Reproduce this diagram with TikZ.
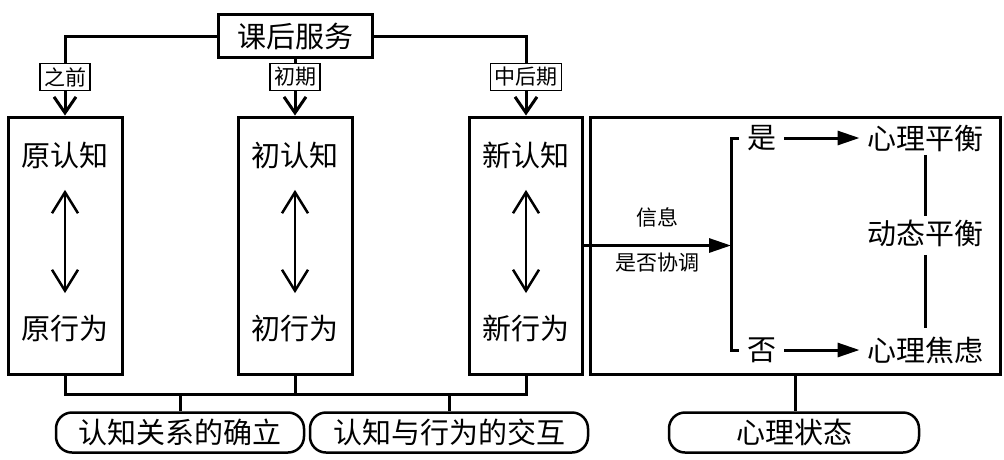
\documentclass[tikz,border=0pt]{standalone}
\usepackage{fontspec}
\setmainfont{Noto Sans CJK SC}
\usetikzlibrary{arrows.meta,positioning}

\begin{document}
\begin{tikzpicture}[x=1pt,y=-1pt,line width=3pt,
    big/.style={inner sep=2pt,font=\fontsize{29}{29}\selectfont},
    small/.style={inner sep=2pt,font=\fontsize{21}{21}\selectfont},
    colbox/.style={draw,minimum width=114pt,minimum height=257pt},
    tagbox/.style={small,draw,line width=1.5pt,fill=white,inner sep=4pt},
    pill/.style={big,draw,line width=2.5pt,rounded corners=16pt,minimum height=40pt},
    vee/.style={-{Straight Barb[length=16pt,width=22pt]}},
    dbl/.style={{Straight Barb[length=21pt,width=26pt]}-{Straight Barb[length=21pt,width=26pt]},
      line width=2.5pt,shorten <=18pt,shorten >=18pt},
    tri/.style={-{Triangle[length=22pt,width=14pt]}}]
  \useasboundingbox (0,0) rectangle (1004,459);

  % top box
  \node[big,draw,minimum width=154pt,minimum height=43pt] (serve) at (295,36) {课后服务};

  % three stages
  \node[colbox] (c1) at (65,245.5) {};
  \node[colbox] (c2) at (295,245.5) {};
  \node[colbox,minimum width=113pt] (c3) at (526,245.5) {};
  \node[big] (c1top) at (65,155) {原认知};
  \node[big] (c1bot) at (65,328) {原行为};
  \node[big] (c2top) at (295,155) {初认知};
  \node[big] (c2bot) at (295,328) {初行为};
  \node[big] (c3top) at (526,155) {新认知};
  \node[big] (c3bot) at (526,328) {新行为};
  \draw[dbl] (c1top) -- (c1bot);
  \draw[dbl] (c2top) -- (c2bot);
  \draw[dbl] (c3top) -- (c3bot);

  \draw[vee] (serve.west) -| (c1.north);
  \draw[vee] (serve.south) -- (c2.north);
  \draw[vee] (serve.east) -| (c3.north);
  \node[tagbox] (t1) at (65,77) {之前};
  \node[tagbox] (t2) at (295,77) {初期};
  \node[tagbox] (t3) at (526,77) {中后期};

  % mental state
  \node[draw,minimum width=410pt,minimum height=257pt] (state) at (795,245.5) {};
  \coordinate (split) at (731,245.5);
  \draw[tri] (c3.east) -- node[small,above=15pt] (msg) {信息}
    node[small,below=4pt] (fit) {是否协调} (split);
  \node[big] (yes) at (762,138) {是};
  \node[big] (no) at (762,350) {否};
  \draw ([xshift=-5pt]yes.west) -| (split) |- ([xshift=-5pt]no.west);
  \node[big] (bal) at (925,138) {心理平衡};
  \node[big] (dyn) at (925,233) {动态平衡};
  \node[big] (anx) at (925,350) {心理焦虑};
  \draw[tri,shorten <=4pt,shorten >=4pt] (yes) -- (bal);
  \draw[tri,shorten <=4pt,shorten >=4pt] (no) -- (anx);
  \draw (bal) -- (dyn);
  \draw[shorten <=5pt,shorten >=5pt] (dyn) -- (anx);

  % bottom
  \coordinate (bus3) at (526,394);
  \draw (c1.south) |- (bus3) -- (c3.south);
  \draw (c2.south) -- (c2.south |- bus3);
  \node[pill,minimum width=248pt] (r1) at (180,432.5) {认知关系的确立};
  \node[pill,minimum width=278pt] (r2) at (449,432.5) {认知与行为的交互};
  \node[pill,minimum width=250pt] (r3) at (794,432.5) {心理状态};
  \draw (r1.north) -- (r1.north |- bus3);
  \draw (r2.north) -- (r2.north |- bus3);
  \draw (state.south) -- (state.south |- r3.north);
\end{tikzpicture}
\end{document}
